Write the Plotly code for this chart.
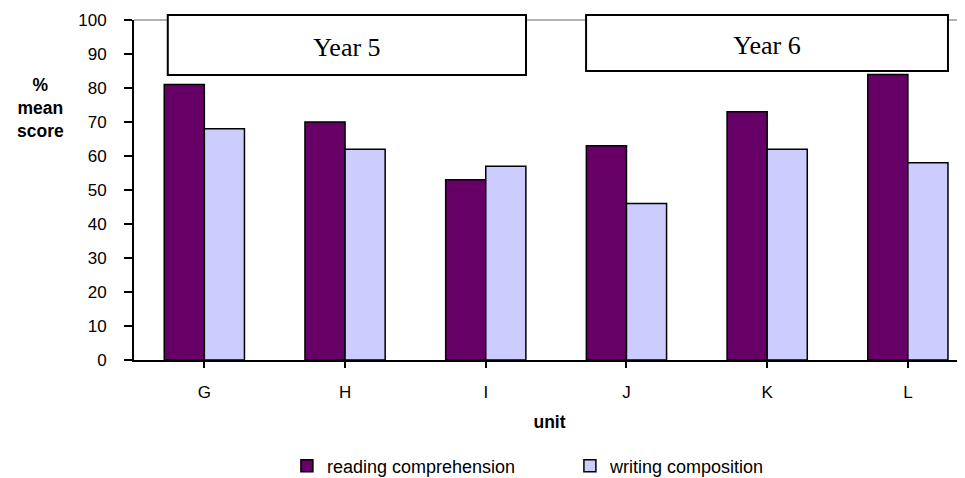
import plotly.graph_objects as go

units = ["G", "H", "I", "J", "K", "L"]
reading = [81, 70, 53, 63, 73, 84]
writing = [68, 62, 57, 46, 62, 58]
y_ticks = list(range(0, 101, 10))
year_groups = [("Year 5", -0.26, 2.286, 101.5, 83.8), ("Year 6", 2.713, 5.285, 101.5, 85.0)]

Y_MAX = 100.0
FIG_W, FIG_H = 957, 470  # page body has an 8px margin


def to_paper(v):
    return v / Y_MAX


fig = go.Figure()
fig.add_trace(go.Bar(x=list(range(len(units))), y=reading, name="reading comprehension",
                     marker=dict(color="#660066", line=dict(color="black", width=1.5))))
fig.add_trace(go.Bar(x=list(range(len(units))), y=writing, name="writing composition",
                     marker=dict(color="#CCCCFF", line=dict(color="black", width=1.5))))

# top border line at 100
fig.add_shape(type="line", xref="paper", x0=0, x1=1, yref="paper", y0=1, y1=1,
              line=dict(color="#999999", width=1.5), layer="below")

for label, x0, x1, y0, y1 in year_groups:
    fig.add_shape(type="rect", xref="x", yref="paper", x0=x0, x1=x1,
                  y0=to_paper(y0), y1=to_paper(y1),
                  line=dict(color="black", width=2), fillcolor="white",
                  label=dict(text=label, font=dict(family="Liberation Serif, Times New Roman, serif",
                                                   size=26, color="black")))

fig.add_annotation(text="<b>%<br>mean<br>score</b>", xref="paper", yref="paper",
                   x=-0.113, y=0.741, xanchor="center", yanchor="middle",
                   showarrow=False, align="center",
                   font=dict(family="Liberation Sans, Arial, sans-serif", size=17.5, color="black"))

fig.update_layout(
    width=FIG_W, height=FIG_H,
    margin=dict(l=126, r=0, t=12, b=118),
    plot_bgcolor="white", paper_bgcolor="white",
    barmode="group", bargap=0.43, bargroupgap=0,
    font=dict(family="Liberation Sans, Arial, sans-serif", size=17, color="black"),
    showlegend=True,
    legend=dict(orientation="h", x=0.184, xanchor="left", xref="paper",
                yref="container", y=(FIG_H - 458) / FIG_H, yanchor="middle",
                font=dict(size=18), entrywidth=238, traceorder="normal"),
    xaxis=dict(tickmode="array", tickvals=list(range(len(units))), ticktext=units,
               range=[-0.5, 5.406], showline=True, linecolor="black", linewidth=2,
               ticks="outside", ticklen=6, tickcolor="black", tickwidth=1.5,
               showgrid=False, zeroline=False, tickfont=dict(size=17), automargin=False,
               ticklabelstandoff=10,
               title=dict(text="<b>unit</b>", font=dict(size=17.5), standoff=14)),
    yaxis=dict(range=[0, 100], tickvals=y_ticks, showline=True, linecolor="black", linewidth=2,
               ticks="outside", ticklen=8, tickcolor="black", tickwidth=1.5, automargin=False,
               showgrid=False, zeroline=False, tickfont=dict(size=17), ticklabelstandoff=14),
)

fig.update_xaxes(tickson="boundaries")

fig.write_html("out.html")
